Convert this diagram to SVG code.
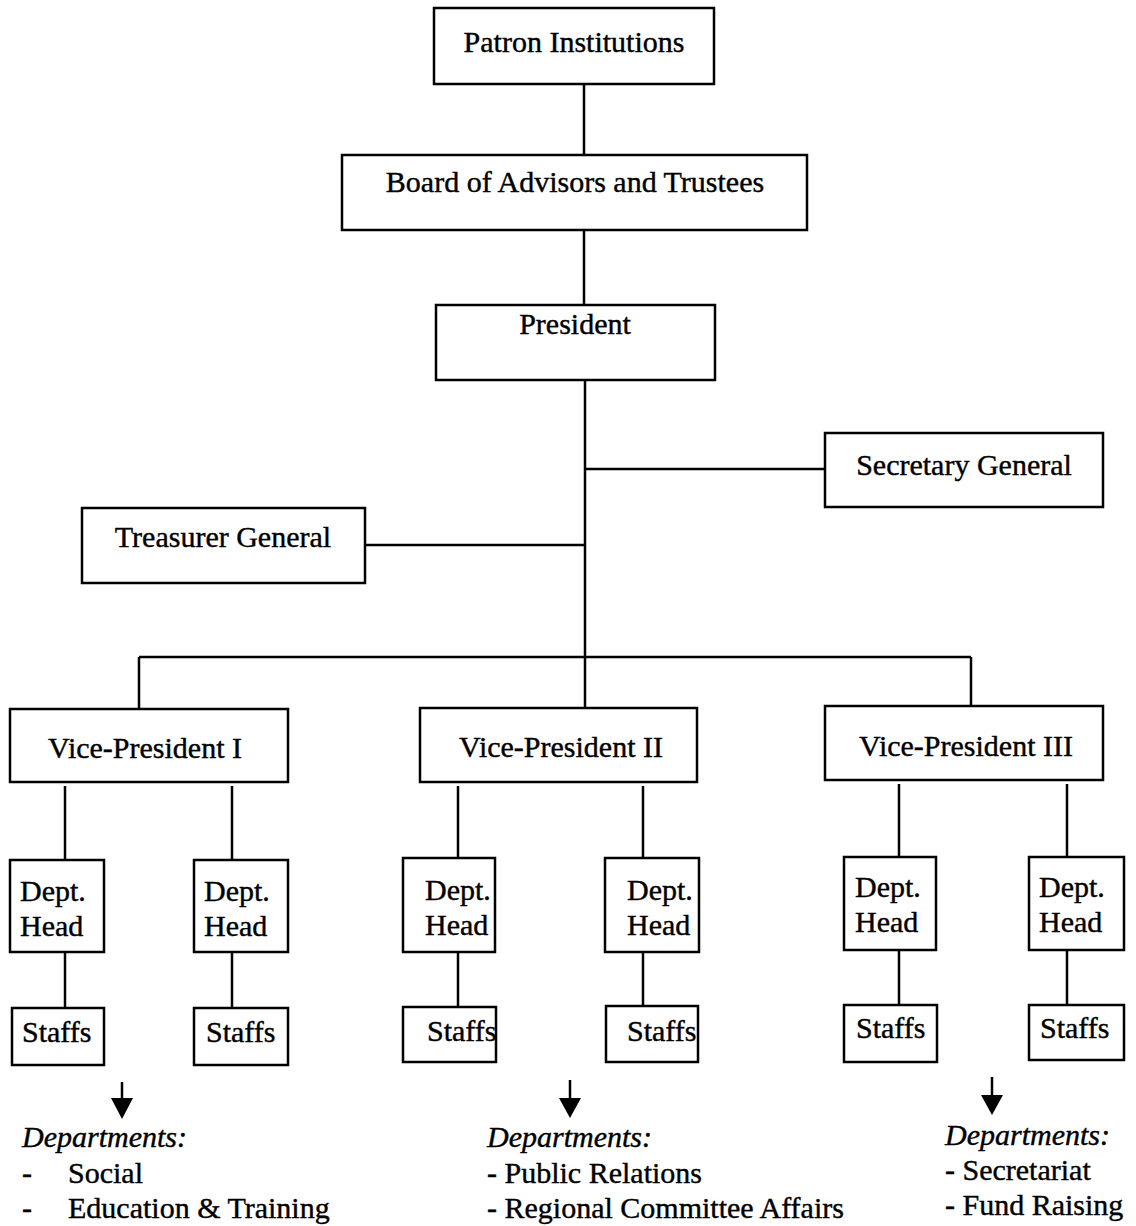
<svg xmlns="http://www.w3.org/2000/svg" width="1136" height="1226" viewBox="0 0 1136 1226">
<defs>
<style>
.box{fill:#fff;stroke:#000;stroke-width:2.5}
.t{font-family:"Liberation Serif","Times New Roman",serif;font-size:30px;fill:#000;stroke:#000;stroke-width:0.4}
.c{text-anchor:middle}
.i{font-style:italic}
.ln{stroke:#000;stroke-width:2.5;fill:none}
</style>
</defs>
<rect width="1136" height="1226" fill="#fff"/>

<g id="connectors">
<line class="ln" x1="584" y1="84" x2="584" y2="155"/>
<line class="ln" x1="584" y1="230" x2="584" y2="305"/>
<line class="ln" x1="585" y1="380" x2="585" y2="708"/>
<line class="ln" x1="585" y1="469" x2="825" y2="469"/>
<line class="ln" x1="365" y1="545" x2="585" y2="545"/>
<line class="ln" x1="139" y1="657" x2="971" y2="657"/>
<line class="ln" x1="139" y1="657" x2="139" y2="709"/>
<line class="ln" x1="971" y1="657" x2="971" y2="706"/>
<line class="ln" x1="65" y1="786" x2="65" y2="860"/>
<line class="ln" x1="232" y1="786" x2="232" y2="860"/>
<line class="ln" x1="65" y1="952" x2="65" y2="1008"/>
<line class="ln" x1="232" y1="952" x2="232" y2="1008"/>
<line class="ln" x1="458" y1="786" x2="458" y2="858"/>
<line class="ln" x1="643" y1="786" x2="643" y2="858"/>
<line class="ln" x1="458" y1="952" x2="458" y2="1007"/>
<line class="ln" x1="643" y1="952" x2="643" y2="1006"/>
<line class="ln" x1="899" y1="784" x2="899" y2="857"/>
<line class="ln" x1="1067" y1="784" x2="1067" y2="857"/>
<line class="ln" x1="899" y1="950" x2="899" y2="1005"/>
<line class="ln" x1="1067" y1="950" x2="1067" y2="1005"/>
<g id="arrows">
<line class="ln" x1="122" y1="1082" x2="122" y2="1100"/>
<path d="M111,1098 L133,1098 L122,1119 Z" fill="#000"/>
<line class="ln" x1="570" y1="1080" x2="570" y2="1100"/>
<path d="M559,1098 L581,1098 L570,1118 Z" fill="#000"/>
<line class="ln" x1="992" y1="1077" x2="992" y2="1097"/>
<path d="M981,1095 L1003,1095 L992,1115 Z" fill="#000"/>
</g>
</g>

<g id="patron"><rect class="box" x="434" y="8" width="280" height="76"/><text class="t c" x="574" y="52">Patron Institutions</text></g>
<g id="board"><rect class="box" x="342" y="155" width="465" height="75"/><text class="t c" x="575" y="192">Board of Advisors and Trustees</text></g>
<g id="president"><rect class="box" x="436" y="305" width="279" height="75"/><text class="t c" x="575" y="334">President</text></g>
<g id="secretary"><rect class="box" x="825" y="433" width="278" height="74"/><text class="t c" x="964" y="475">Secretary General</text></g>
<g id="treasurer"><rect class="box" x="82" y="508" width="283" height="75"/><text class="t c" x="223" y="547">Treasurer General</text></g>

<g id="vp1"><rect class="box" x="10" y="709" width="278" height="73"/><text class="t c" x="145" y="758">Vice-President I</text></g>
<g id="vp2"><rect class="box" x="420" y="708" width="277" height="74"/><text class="t c" x="561" y="757">Vice-President II</text></g>
<g id="vp3"><rect class="box" x="825" y="706" width="278" height="74"/><text class="t c" x="966" y="756">Vice-President III</text></g>

<g id="dh1"><rect class="box" x="10" y="860" width="94" height="92"/><text class="t" x="20" y="901">Dept.</text><text class="t" x="20" y="936">Head</text></g>
<g id="dh2"><rect class="box" x="194" y="860" width="94" height="92"/><text class="t" x="204" y="901">Dept.</text><text class="t" x="204" y="936">Head</text></g>
<g id="dh3"><rect class="box" x="403" y="858" width="92" height="94"/><text class="t" x="425" y="900">Dept.</text><text class="t" x="425" y="935">Head</text></g>
<g id="dh4"><rect class="box" x="605" y="858" width="94" height="94"/><text class="t" x="627" y="900">Dept.</text><text class="t" x="627" y="935">Head</text></g>
<g id="dh5"><rect class="box" x="844" y="857" width="92" height="93"/><text class="t" x="855" y="897">Dept.</text><text class="t" x="855" y="932">Head</text></g>
<g id="dh6"><rect class="box" x="1029" y="857" width="95" height="93"/><text class="t" x="1039" y="897">Dept.</text><text class="t" x="1039" y="932">Head</text></g>

<g id="st1"><rect class="box" x="12" y="1008" width="92" height="57"/><text class="t" x="22" y="1042">Staffs</text></g>
<g id="st2"><rect class="box" x="194" y="1008" width="94" height="57"/><text class="t" x="206" y="1042">Staffs</text></g>
<g id="st3"><rect class="box" x="403" y="1007" width="93" height="55"/><text class="t" x="427" y="1041">Staffs</text></g>
<g id="st4"><rect class="box" x="606" y="1006" width="92" height="56"/><text class="t" x="627" y="1041">Staffs</text></g>
<g id="st5"><rect class="box" x="844" y="1005" width="93" height="57"/><text class="t" x="856" y="1038">Staffs</text></g>
<g id="st6"><rect class="box" x="1029" y="1005" width="95" height="55"/><text class="t" x="1040" y="1038">Staffs</text></g>

<g id="dept-list-1">
<text class="t i" x="22" y="1147">Departments:</text>
<text class="t" x="22" y="1183">-</text><text class="t" x="68" y="1183">Social</text>
<text class="t" x="22" y="1218">-</text><text class="t" x="68" y="1218">Education &amp; Training</text>
</g>
<g id="dept-list-2">
<text class="t i" x="487" y="1147">Departments:</text>
<text class="t" x="487" y="1183">- Public Relations</text>
<text class="t" x="487" y="1218">- Regional Committee Affairs</text>
</g>
<g id="dept-list-3">
<text class="t i" x="945" y="1145">Departments:</text>
<text class="t" x="945" y="1180">- Secretariat</text>
<text class="t" x="945" y="1215">- Fund Raising</text>
</g>
</svg>
